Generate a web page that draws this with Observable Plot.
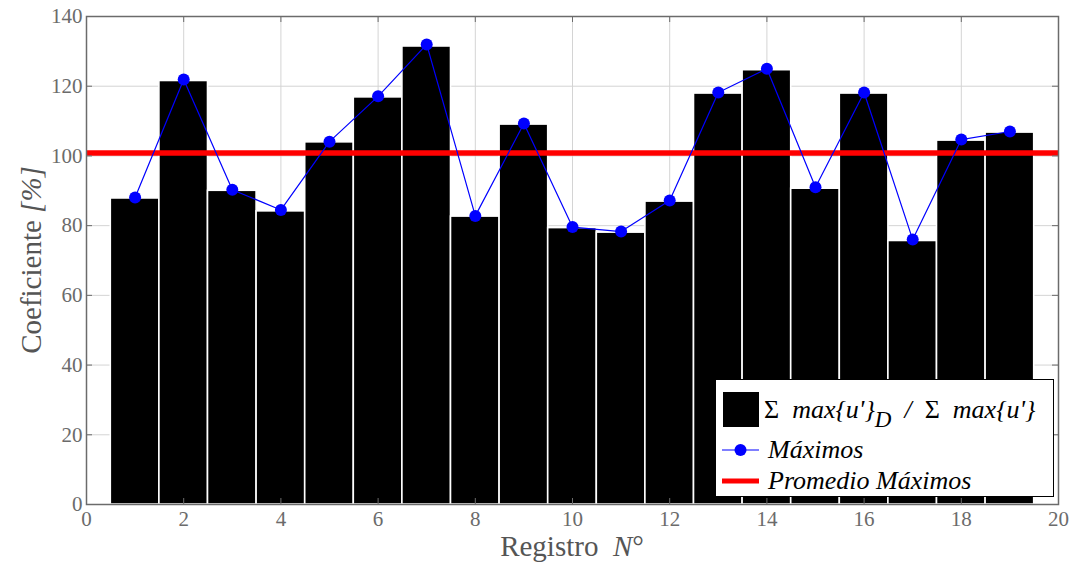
<!DOCTYPE html>
<html>
<head>
<meta charset="utf-8">
<script src="https://cdn.jsdelivr.net/npm/d3@7"></script>
<script src="https://cdn.jsdelivr.net/npm/@observablehq/plot@0.6"></script>
<style>
  html, body { margin: 0; padding: 0; background: #fff; }
  #chart { position: relative; width: 1075px; height: 567px; }
  #legend {
    position: absolute; left: 715px; top: 379px; width: 339px; height: 118px;
    background: #fff; border: 1.5px solid #000; box-sizing: border-box;
    font-family: "Liberation Serif", "DejaVu Serif", serif; font-style: italic;
    font-size: 26px; color: #000;
  }
  #legend .row { position: absolute; left: 0; display: flex; align-items: center; white-space: pre; }
  #legend .up { font-style: normal; }
  #legend sub { font-size: 23px; vertical-align: -9px; line-height: 0; }
</style>
</head>
<body>
<div id="chart"></div>
<script>
// Register number of each recording
const registros = [1, 2, 3, 4, 5, 6, 7, 8, 9, 10, 11, 12, 13, 14, 15, 16, 17, 18, 19];
// Ratio Σ max{u'}_D / Σ max{u'} per record [%]
const cocientes = [87.8, 121.5, 90.0, 84.1, 103.9, 116.8, 131.4, 82.6, 109.0, 79.3, 78.0, 86.9, 117.9, 124.6, 90.6, 117.9, 75.6, 104.4, 106.7];
// Maximum coefficient per record [%]
const maximos = [88.1, 121.9, 90.3, 84.5, 104.1, 117.1, 132.0, 82.8, 109.3, 79.6, 78.3, 87.2, 118.2, 125.0, 91.0, 118.2, 76.0, 104.7, 107.0];
// Axis ticks
const xTicks = [0, 2, 4, 6, 8, 10, 12, 14, 16, 18, 20];
const yTicks = [0, 20, 40, 60, 80, 100, 120, 140];

const barras = registros.map((r, i) => ({registro: r, valor: cocientes[i]}));
const puntos = registros.map((r, i) => ({registro: r, valor: maximos[i]}));
const promedio = d3.mean(maximos);

const W = 1075, H = 567;
const mL = 86, mR = 17, mT = 16, mB = 63;
const innerW = W - mL - mR, innerH = H - mT - mB;
const tickLen = 6;
const axisGray = "#6b6b6b";
const gridGray = "#d4d4d4";
const serif = "Liberation Serif, DejaVu Serif, serif";

const chart = Plot.plot({
  width: W, height: H,
  marginLeft: mL, marginRight: mR, marginTop: mT, marginBottom: mB,
  style: {fontFamily: serif, background: "#fff"},
  x: {domain: [0, 20], ticks: xTicks},
  y: {domain: [0, 140], ticks: yTicks},
  marks: [
    // grid
    Plot.ruleX(xTicks.slice(1, -1), {stroke: gridGray, strokeWidth: 1}),
    Plot.ruleY(yTicks.slice(1, -1), {stroke: gridGray, strokeWidth: 1}),
    // bars
    Plot.rectY(barras, {x1: d => d.registro - 0.5, x2: d => d.registro + 0.5, y1: 0, y2: "valor", fill: "#000", stroke: "#fff", strokeWidth: 1.6}),
    // average of maxima
    Plot.ruleY([promedio], {stroke: "#ff0000", strokeWidth: 5.5}),
    // maxima
    Plot.line(puntos, {x: "registro", y: "valor", stroke: "#0000ff", strokeWidth: 1.2}),
    Plot.dot(puntos, {x: "registro", y: "valor", r: 6, fill: "#0000ff", stroke: "none"}),
    // inward ticks on all four sides
    Plot.ruleX(xTicks, {stroke: axisGray, strokeWidth: 1, insetTop: innerH - tickLen}),
    Plot.ruleX(xTicks, {stroke: axisGray, strokeWidth: 1, insetBottom: innerH - tickLen}),
    Plot.ruleY(yTicks, {stroke: axisGray, strokeWidth: 1, insetRight: innerW - tickLen}),
    Plot.ruleY(yTicks, {stroke: axisGray, strokeWidth: 1, insetLeft: innerW - tickLen}),
    Plot.frame({stroke: axisGray, strokeWidth: 1.5}),
    Plot.axisX({ticks: xTicks, tickSize: 0, tickPadding: 7, fontSize: 21, fontFamily: serif, fill: axisGray, label: null}),
    Plot.axisY({ticks: yTicks, tickSize: 0, tickPadding: 4, fontSize: 21, fontFamily: serif, fill: axisGray, label: null})
  ]
});

document.getElementById("chart").appendChild(chart);

// Axis titles with mixed upright / italic text
const svg = d3.select(chart);
const xs = chart.scale("x"), ys = chart.scale("y");
const cx = (xs.apply(0) + xs.apply(20)) / 2;
const cy = (ys.apply(0) + ys.apply(140)) / 2;

const xt = svg.append("text")
  .attr("x", cx).attr("y", 556)
  .attr("text-anchor", "middle")
  .attr("fill", "#555").attr("font-size", 29)
  .attr("font-family", serif);
xt.append("tspan").text("Registro\u00a0\u00a0");
xt.append("tspan").attr("font-style", "italic").text("N");
xt.append("tspan").text("°");

const yt = svg.append("text")
  .attr("transform", `translate(41,${cy}) rotate(-90)`)
  .attr("text-anchor", "middle")
  .attr("fill", "#555").attr("font-size", 29)
  .attr("font-family", serif);
yt.append("tspan").text("Coeficiente\u00a0");
yt.append("tspan").attr("font-style", "italic").text("[%]");

// Legend
const legend = document.createElement("div");
legend.id = "legend";
legend.innerHTML = `
  <div class="row" style="left:7px; top:12px;">
    <svg width="36" height="35" style="margin-right:5px"><rect x="0" y="0" width="36" height="35" fill="#000"/></svg>
    <span class="up">Σ</span><span>  max{u'}<sub>D</sub>  /  </span><span class="up">Σ</span><span>  max{u'}</span>
  </div>
  <div class="row" style="left:6px; top:55px;">
    <svg width="37" height="26" style="margin-right:9px"><line x1="0" x2="37" y1="13" y2="13" stroke="#0000ff" stroke-width="1.2"/><circle cx="18.5" cy="13" r="6" fill="#0000ff"/></svg>
    <span>Máximos</span>
  </div>
  <div class="row" style="left:6px; top:86px;">
    <svg width="37" height="26" style="margin-right:9px"><line x1="0" x2="37" y1="13" y2="13" stroke="#ff0000" stroke-width="5"/></svg>
    <span>Promedio Máximos</span>
  </div>`;
document.getElementById("chart").appendChild(legend);
</script>
</body>
</html>
